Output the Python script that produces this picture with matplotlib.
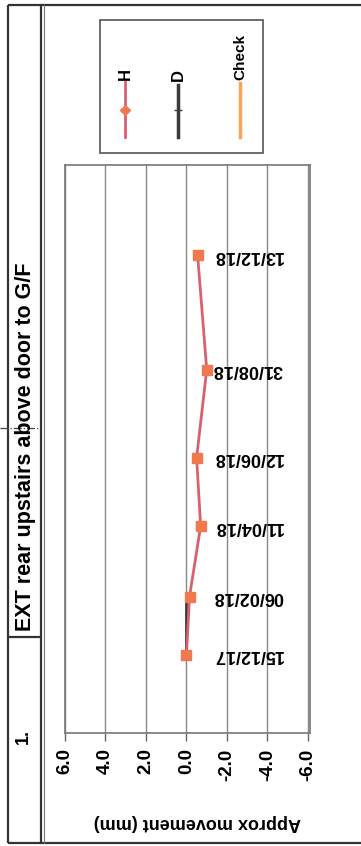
import pandas as pd
import matplotlib
matplotlib.use("Agg")
import matplotlib.pyplot as plt
import matplotlib.dates as mdates
from matplotlib.transforms import blended_transform_factory
from matplotlib.patches import Rectangle

plt.rcParams["font.family"] = ["Liberation Sans", "DejaVu Sans"]
plt.rcParams["font.weight"] = "bold"

# ---------- DATA ----------
dates = ["15/12/17", "06/02/18", "11/04/18", "12/06/18", "31/08/18", "13/12/18"]
h_values = [0.0, -0.15, -0.7, -0.5, -1.0, -0.55]
d_dates = ["15/12/17", "06/02/18"]
d_values = [0.0, 0.0]
x_ticks = [6.0, 4.0, 2.0, 0.0, -2.0, -4.0, -6.0]
legend_names = ["H", "D", "Check"]
title = "EXT rear upstairs above door to G/F"
ref_no = "1."

h_color = "#D9616F"
h_marker = "#F07A4E"
d_color = "#3A3A3A"
check_color = "#F2A85C"

date_nums = mdates.date2num(pd.to_datetime(dates, format="%d/%m/%y"))
d_nums = mdates.date2num(pd.to_datetime(d_dates, format="%d/%m/%y"))

W, H = 361, 846
fig = plt.figure(figsize=(W / 100, H / 100), dpi=100)

# ---------- PAGE FRAME (pixel coords) ----------
page = fig.add_axes([0, 0, 1, 1])
page.set_xlim(0, W)
page.set_ylim(H, 0)
page.axis("off")

frame = dict(color="#333333", lw=1.6, solid_capstyle="butt")
page.plot([8, W], [5, 5], **frame)
page.plot([8, W], [843, 843], **frame)
page.plot([8, 8], [5, 843], **frame)
page.plot([41, 41], [5, 843], **frame)
page.plot([44, 44], [5, 843], color="#777777", lw=0.8)
page.plot([8, 42], [637, 637], **frame)
page.plot([0, 40], [428, 428], color="#444444", lw=0.9, ls="-.")

page.text(26, 447, title, rotation=90, ha="center", va="center", fontsize=15.5)
page.text(23, 736, ref_no, rotation=90, ha="center", va="center", fontsize=13)

# ---------- LEGEND ----------
page.add_patch(Rectangle((100, 20), 163, 133, fill=False, ec="#555555", lw=1.2))
page.plot([125, 125], [82, 137], color=h_color, lw=2)
page.plot([125], [110], marker="D", ms=5, color=h_marker)
page.plot([178, 178], [85, 137], color=d_color, lw=2.5)
page.plot([178], [110], marker="+", ms=6, color=d_color, mew=1)
page.plot([240, 240], [83, 137], color=check_color, lw=2.5)
page.text(125, 74, legend_names[0], rotation=90, ha="center", va="center", fontsize=12)
page.text(178, 75, legend_names[1], rotation=90, ha="center", va="center", fontsize=12)
page.text(240, 57, legend_names[2], rotation=90, ha="center", va="center", fontsize=11)

# ---------- PLOT ----------
ax = fig.add_axes([65 / W, (H - 733) / H, 245 / W, 568 / H])
ax.plot(d_values, d_nums, color=d_color, lw=2, zorder=2)
ax.plot(h_values, date_nums, color=h_color, lw=2, marker="s", ms=6.5,
        mfc=h_marker, mec=h_marker, zorder=3)

ax.set_xlim(6.0, -6.1)
ax.set_ylim(mdates.date2num(pd.Timestamp("2017-10-05")),
            mdates.date2num(pd.Timestamp("2019-03-05")))

ax.set_xticks(x_ticks)
ax.set_xticklabels([f"{v:.1f}" for v in x_ticks], rotation=90, fontsize=13.5)
ax.tick_params(axis="x", length=6, width=1, color="#666666", pad=5)
ax.set_yticks([])
ax.grid(axis="x", color="#888888", lw=1)
for s in ax.spines.values():
    s.set_color("#777777")
    s.set_linewidth(1.2)

# date labels sit in a column on the right of the series
trans = blended_transform_factory(ax.transAxes, ax.transData)
for lab, y in zip(dates, date_nums):
    ax.text(0.89, y, lab, transform=trans, rotation=180, ha="right",
            va="center", fontsize=13)

ax.text(0.539, -0.157, "Approx movement (mm)", transform=ax.transAxes,
        rotation=180, ha="center", va="center", fontsize=13)

fig.savefig("out.png", dpi=100)
